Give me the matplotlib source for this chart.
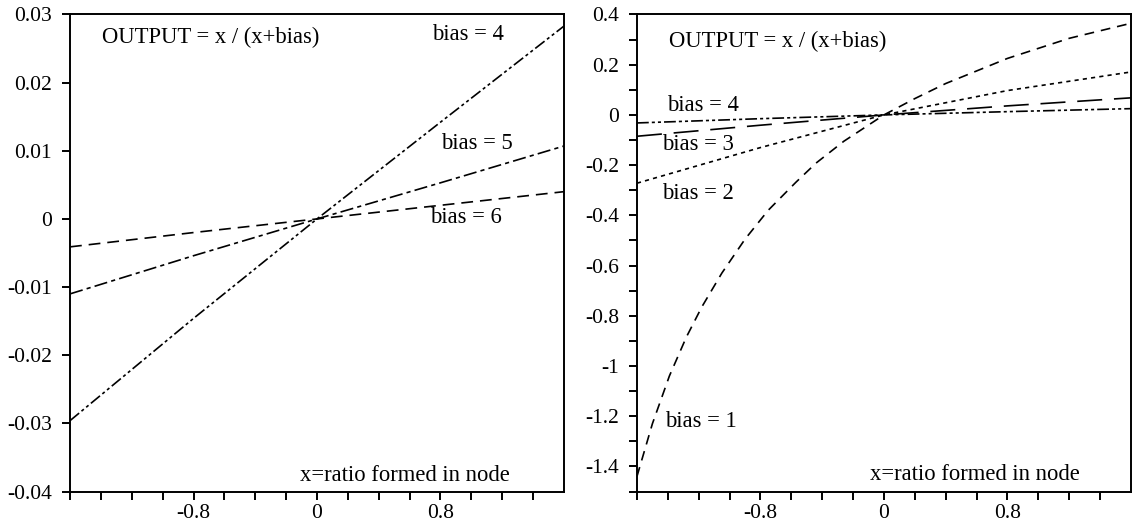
import numpy as np
import matplotlib
matplotlib.use("Agg")
import matplotlib.pyplot as plt

plt.rcParams['font.family'] = ['Liberation Serif', 'DejaVu Serif']
plt.rcParams['lines.scale_dashes'] = False

# left panel: bias 4, 5, 6
x_left = [-1.6, -0.8, 0.0, 0.8, 1.6]
bias4_left = [-0.0296, -0.0146, 0.0, 0.0142, 0.0283]
bias5_left = [-0.0110, -0.0054, 0.0, 0.0053, 0.0107]
bias6_left = [-0.0041, -0.0020, 0.0, 0.0020, 0.0040]

# right panel: bias 1..4
x_right = [-1.6, -0.8, 0.0, 0.8, 1.6]
bias4_right = [-0.032, -0.015, 0.0, 0.013, 0.025]
bias3_right = [-0.085, -0.041, 0.0, 0.036, 0.068]
bias2_right = [-0.272, -0.130, 0.0, 0.097, 0.171]
x_b1 = [-1.6, -1.5, -1.39, -1.28, -1.18, -1.05, -0.9, -0.75, -0.57, -0.44, -0.26, 0.0,
        0.2, 0.4, 0.8, 1.2, 1.6]
bias1_right = [-1.44, -1.23, -1.04, -0.885, -0.765, -0.63, -0.495, -0.38, -0.268, -0.192,
               -0.105, 0.0, 0.065, 0.125, 0.225, 0.305, 0.365]

xticks_all = [-1.6, -1.4, -1.2, -1.0, -0.8, -0.6, -0.4, -0.2, 0.0, 0.2, 0.4, 0.6, 0.8, 1.0, 1.2, 1.4]
xlabels = ['-0.8', '0', '0.8']
xlabel_pos = [-0.8, 0.0, 0.8]

yticks_left = [-0.04, -0.03, -0.02, -0.01, 0.0, 0.01, 0.02, 0.03]
ylabels_left = ['-0.04', '-0.03', '-0.02', '-0.01', '0', '0.01', '0.02', '0.03']

yticks_right_major = [-1.4, -1.2, -1.0, -0.8, -0.6, -0.4, -0.2, 0.0, 0.2, 0.4]
ylabels_right = ['-1.4', '-1.2', '-1', '-0.8', '-0.6', '-0.4', '-0.2', '0', '0.2', '0.4']
yticks_right_minor = [-1.5, -1.3, -1.1, -0.9, -0.7, -0.5, -0.3, -0.1, 0.1, 0.3]

fs_tick = 15.5
fs = 16.3

fig = plt.figure(figsize=(11.35, 5.25), dpi=100)
ax1 = fig.add_axes([0.0617, 0.0638, 0.4352, 0.9086])
ax2 = fig.add_axes([0.5612, 0.0638, 0.4352, 0.9086])

for ax in (ax1, ax2):
    for s in ax.spines.values():
        s.set_linewidth(1.4)
    ax.set_xlim(-1.6, 1.6)
    ax.set_xticks(xlabel_pos)
    ax.set_xticklabels(xlabels)
    ax.set_xticks([t for t in xticks_all if t not in xlabel_pos], minor=True)
    ax.tick_params(which='both', direction='out', length=6, width=1.4, labelsize=fs_tick, pad=3)
    ax.tick_params(axis='y', which='both', pad=7)

lw = 1.2
ax1.plot(x_left, bias4_left, color='black', lw=lw, dashes=(8.5, 2.2, 2.2, 2.2, 2.2, 2.2))
ax1.plot(x_left, bias5_left, color='black', lw=lw, dashes=(9.5, 3, 3, 3))
ax1.plot(x_left, bias6_left, color='black', lw=lw, dashes=(8.5, 5))
ax1.set_ylim(-0.04, 0.03)
ax1.set_yticks(yticks_left)
ax1.set_yticklabels(ylabels_left)

ax1.text(-1.395, 0.0266, 'OUTPUT = x / (x+bias)', fontsize=fs, va='center', ha='left')
ax1.text(0.745, 0.0270, 'bias = 4', fontsize=fs, va='center', ha='left')
ax1.text(0.803, 0.0110, 'bias = 5', fontsize=fs, va='center', ha='left')
ax1.text(0.732, 0.0002, 'bias = 6', fontsize=fs, va='center', ha='left')
ax1.text(-0.110, -0.0376, 'x=ratio formed in node', fontsize=fs, va='center', ha='left')

ax2.plot(x_right, bias4_right, color='black', lw=lw, dashes=(8.5, 2.2, 2.2, 2.2, 2.2, 2.2))
ax2.plot(x_right, bias3_right, color='black', lw=lw, dashes=(18, 8.5))
ax2.plot(x_right, bias2_right, color='black', lw=lw, dashes=(3, 3))
ax2.plot(x_b1, bias1_right, color='black', lw=lw, dashes=(7, 5))
ax2.set_ylim(-1.5, 0.4)
ax2.set_yticks(yticks_right_major)
ax2.set_yticklabels(ylabels_right)
ax2.set_yticks(yticks_right_minor, minor=True)

ax2.text(-1.39, 0.291, 'OUTPUT = x / (x+bias)', fontsize=fs, va='center', ha='left')
ax2.text(-1.406, 0.0375, 'bias = 4', fontsize=fs, va='center', ha='left')
ax2.text(-1.439, -0.116, 'bias = 3', fontsize=fs, va='center', ha='left')
ax2.text(-1.439, -0.315, 'bias = 2', fontsize=fs, va='center', ha='left')
ax2.text(-1.42, -1.222, 'bias = 1', fontsize=fs, va='center', ha='left')
ax2.text(-0.093, -1.434, 'x=ratio formed in node', fontsize=fs, va='center', ha='left')

fig.savefig('out.png', dpi=100)
